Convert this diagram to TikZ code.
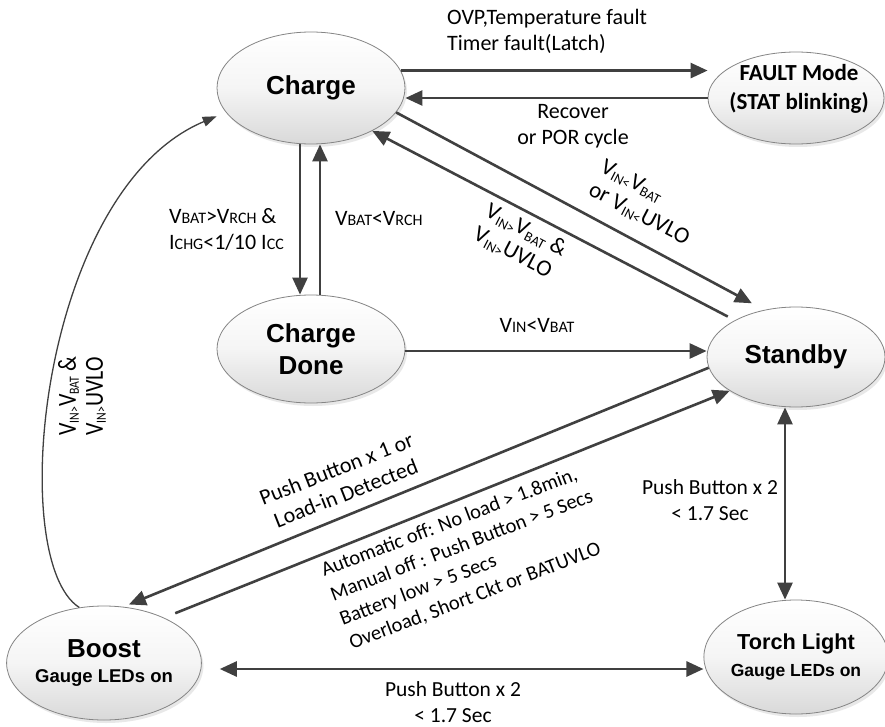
\documentclass[tikz,border=0pt]{standalone}
\usepackage{fontspec}
\setmainfont{Carlito}
\newfontfamily\arialf{Liberation Sans}
\usetikzlibrary{arrows.meta,shapes.geometric,shadows}
\definecolor{linec}{HTML}{404040}
\definecolor{edgec}{HTML}{858585}
\newcommand\ssub[1]{\raisebox{-3pt}{\fontsize{14}{14}\selectfont #1}}
\newcommand\smc[1]{{\fontsize{16}{16}\selectfont #1}}
\begin{document}
\begin{tikzpicture}[x=1pt,y=-1pt,
  state/.style={ellipse, draw=edgec, line width=0.8pt, top color=white, bottom color=black!15, middle color=black!4,
     inner sep=0pt, align=center, text=black,
     drop shadow={shadow xshift=2pt, shadow yshift=-3pt, opacity=0.25, fill=black!35}},
  title/.style={font=\arialf\bfseries\fontsize{26}{30}\selectfont},
  arr/.style={draw=linec, line width=2.6pt, -{Triangle[length=17pt,width=15pt]}},
  dbl/.style={draw=linec, line width=2.6pt, {Triangle[length=17pt,width=15pt]}-{Triangle[length=17pt,width=15pt]}},
  thinarr/.style={draw=linec, line width=1.3pt, -{Triangle[length=14pt,width=10pt]}},
  lbl/.style={font=\fontsize{22}{26}\selectfont, inner sep=0pt, text=black},
]
\useasboundingbox[fill=white] (0,0) rectangle (885,727);

% states
\node[state, title, minimum width=188pt, minimum height=112pt] (charge) at (311,88) {Charge};
\node[state, minimum width=176pt, minimum height=92pt] (fault) at (796,98) {};
\node[font=\bfseries\fontsize{23}{29}\selectfont, align=center, inner sep=0pt] (faulttext) at (799,89) {FAULT Mode\\(STAT blinking)};
\node[state, title, minimum width=178pt, minimum height=100pt] (standby) at (796,357) {Standby};
\node[state, title, font=\arialf\bfseries\fontsize{26}{32}\selectfont, minimum width=188pt, minimum height=108pt] (done) at (311,349) {Charge\\Done};
\node[state, title, font=\arialf\bfseries\fontsize{26}{25}\selectfont, minimum width=190pt, minimum height=114pt] (boost) at (104,663) {Boost\\{\fontsize{18.5}{22}\selectfont Gauge LEDs on}};
\node[state, font=\arialf\bfseries\fontsize{21.7}{27}\selectfont, minimum width=178pt, minimum height=114pt] (torch) at (796,657) {Torch Light\\{\fontsize{17.5}{22}\selectfont Gauge LEDs on}};

% connectors
\draw[arr] (charge.11) -- (charge.11 -| fault.west);
\draw[arr] (fault.west) -- (fault.west -| charge.east);
\draw[arr] ([xshift=-11pt]charge.south) -- ([xshift=-11pt]done.north);
\draw[arr] ([xshift=9pt]done.north) -- ([xshift=9pt]charge.south);
\draw[arr] ([yshift=-2pt]done.east) -- ([yshift=-2pt]done.east -| standby.west);
\draw[arr, shorten >=14pt] (charge.-16) -- (standby.124);
\draw[arr, shorten <=8pt] (standby.149) -- (charge.-35);
\draw[arr, shorten >=6pt] (standby.187) -- (boost.71);
\draw[arr, shorten <=12pt] (boost.37) -- (standby.207);
\draw[dbl] ([xshift=-11pt]standby.south) -- ([xshift=-11pt]torch.north);
\draw[dbl, shorten >=18pt] ([yshift=-12pt]torch.west) -- ([yshift=-12pt]torch.west -| boost.east);
\draw[thinarr, shorten >=10pt] (boost.114) .. controls (5,560) and (40,190) .. (charge.196);

% labels
\node[lbl, anchor=west, align=left] (l1) at (447,31) {OVP,Temperature fault\\Timer fault(Latch)};
\node[lbl, align=center] (l2) at (573,126) {Recover\\or POR cycle};
\node[lbl, anchor=west, align=left] (l3) at (169,229) {V\smc{BAT}>V\smc{RCH} \&\\I\smc{CHG}<1/10 I\smc{CC}};
\node[lbl, anchor=west] (l4) at (335,218) {V\smc{BAT}<V\smc{RCH}};
\node[lbl] (l5) at (537,325) {V\smc{IN}<V\smc{BAT}};
\node[lbl, font=\fontsize{23}{26}\selectfont, rotate=-27.5, align=left] (l6) at (645,203) {V\ssub{IN<}V\ssub{BAT}\\or V\ssub{IN<}UVLO};
\node[lbl, font=\fontsize{23}{26}\selectfont, rotate=-27.5, align=left] (l7) at (520,242) {V\ssub{IN>}V\ssub{BAT} \&\\V\ssub{IN>}UVLO};
\node[lbl, rotate=21.5, align=center] (l8) at (341,481) {Push Button x 1 or\\Load-in Detected};
\node[lbl, font=\fontsize{20.5}{26}\selectfont, rotate=21, anchor=west, align=left] (l9) at (336,608) {Automatic off: No load > 1.8min,\\Manual off : Push Button > 5 Secs\\Battery low > 5 Secs\\Overload, Short Ckt or BATUVLO};
\node[lbl, font=\fontsize{21.5}{26}\selectfont, align=center] (l10) at (710,500) {Push Button x 2\\< 1.7 Sec};
\node[lbl, font=\fontsize{21.5}{26}\selectfont, align=center] (l11) at (453,702) {Push Button x 2\\< 1.7 Sec};
\node[lbl, font=\fontsize{26}{27}\selectfont, rotate=90, anchor=west, align=left] (l12) at (82,436) {\scalebox{0.84}[1]{V\ssub{IN>}V\ssub{BAT} \&}\\\scalebox{0.84}[1]{V\ssub{IN>}UVLO}};
\end{tikzpicture}
\end{document}
